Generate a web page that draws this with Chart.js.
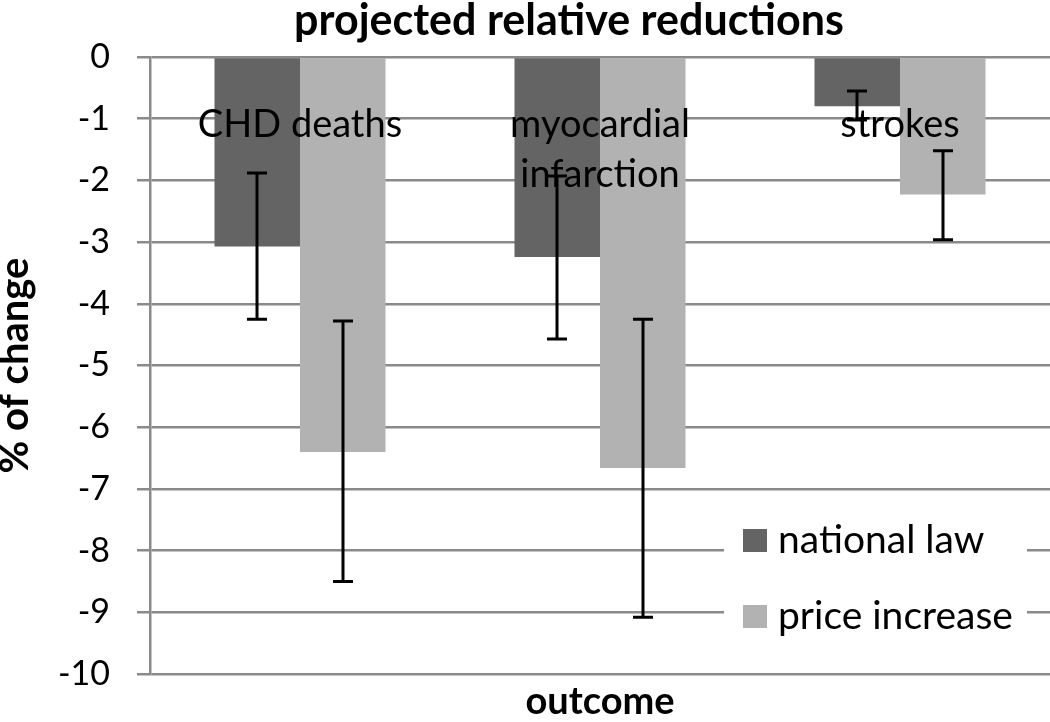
<!DOCTYPE html>
<html>
<head>
<meta charset="utf-8">
<script src="https://cdn.jsdelivr.net/npm/chart.js@4.4.1/dist/chart.umd.min.js"></script>
<style>
  html, body { margin: 0; padding: 0; background: #fff; }
  #wrap { width: 1050px; height: 722px; }
</style>
</head>
<body>
<div id="wrap"><canvas id="myChart" width="1050" height="722"></canvas></div>
<script>
// values
const categories = ['CHD deaths', ['myocardial', 'infarction'], 'strokes'];
const seriesNames = ['national law', 'price increase'];
const nationalLaw = [-3.07, -3.24, -0.80];
const priceIncrease = [-6.40, -6.66, -2.23];
// error bar ends (upper, lower)
const nationalLawErr = [[-1.88, -4.25], [-1.93, -4.57], [-0.55, -1.02]];
const priceIncreaseErr = [[-4.28, -8.50], [-4.25, -9.08], [-1.52, -2.96]];
const yTicks = [0, -1, -2, -3, -4, -5, -6, -7, -8, -9, -10];

const FONT = 'Lato';
const gridColor = '#8a8a8a';
const colors = ['#646464', '#b2b2b2'];

// draw category names inside the plot, error bars and the legend box
const extras = {
    id: 'extras',
    afterDatasetsDraw(chart) {
        const ctx = chart.ctx;
        const x = chart.scales.x;
        const y = chart.scales.y;
        ctx.save();
        // category labels near the top of the plot
        ctx.fillStyle = '#000';
        ctx.font = '38px ' + FONT;
        ctx.textAlign = 'center';
        ctx.textBaseline = 'alphabetic';
        categories.forEach((c, i) => {
            const lines = Array.isArray(c) ? c : [c];
            const cx = x.getPixelForValue(i);
            lines.forEach((l, j) => {
                ctx.fillText(l, cx, 137 + j * 50);
            });
        });
        // error bars
        const errs = [nationalLawErr, priceIncreaseErr];
        ctx.strokeStyle = '#000';
        ctx.lineWidth = 3;
        errs.forEach((err, d) => {
            const meta = chart.getDatasetMeta(d);
            meta.data.forEach((bar, i) => {
                const bx = Math.round(bar.x);
                const y1 = y.getPixelForValue(err[i][0]);
                const y2 = y.getPixelForValue(err[i][1]);
                ctx.beginPath();
                ctx.moveTo(bx, y1); ctx.lineTo(bx, y2);
                ctx.moveTo(bx - 10, y1); ctx.lineTo(bx + 10, y1);
                ctx.moveTo(bx - 10, y2); ctx.lineTo(bx + 10, y2);
                ctx.stroke();
            });
        });
        // legend inside the plot, bottom right
        ctx.fillStyle = '#fff';
        ctx.fillRect(724, 515, 303, 130);
        ctx.textAlign = 'left';
        ctx.textBaseline = 'middle';
        ctx.font = '39px ' + FONT;
        seriesNames.forEach((n, i) => {
            const top = i === 0 ? 529 : 605;
            ctx.fillStyle = colors[i];
            ctx.fillRect(743, top, 24, 23);
            ctx.fillStyle = '#000';
            ctx.fillText(n, 778, top + 11);
        });
        // title
        ctx.textAlign = 'center';
        ctx.textBaseline = 'alphabetic';
        ctx.font = 'bold 43px ' + FONT;
        ctx.fillText('projected relative reductions', 569, 35);
        ctx.restore();
    }
};

const ctx = document.getElementById('myChart').getContext('2d');
const chart = new Chart(ctx, {
    type: 'bar',
    data: {
        labels: categories,
        datasets: [{
            label: seriesNames[0],
            data: nationalLaw,
            backgroundColor: colors[0],
            borderWidth: 0
        }, {
            label: seriesNames[1],
            data: priceIncrease,
            backgroundColor: colors[1],
            borderWidth: 0
        }]
    },
    options: {
        responsive: false,
        animation: false,
        layout: { padding: { top: 57, right: 0, left: 0, bottom: 0 } },
        datasets: { bar: { categoryPercentage: 0.57, barPercentage: 1.0 } },
        plugins: {
            legend: { display: false },
            tooltip: { enabled: false },
            title: { display: false }
        },
        scales: {
            x: {
                grid: { display: false },
                border: { display: false },
                ticks: { display: false },
                title: {
                    display: true,
                    text: 'outcome',
                    color: '#000',
                    font: { family: FONT, size: 38, weight: 'bold' },
                    padding: { top: 0, bottom: -3 }
                },
                afterFit(scale) { scale.height = 48; }
            },
            y: {
                min: -10,
                max: 0,
                afterBuildTicks(scale) { scale.ticks = yTicks.map(v => ({ value: v })); },
                grid: { color: gridColor, lineWidth: 2.5, tickLength: 13 },
                border: { color: gridColor, width: 2.5 },
                ticks: {
                    color: '#000',
                    padding: 27,
                    font: { family: FONT, size: 34 }
                },
                title: {
                    display: true,
                    text: '% of change',
                    color: '#000',
                    font: { family: FONT, size: 40, weight: 'bold' },
                    padding: { top: -9, bottom: 0 }
                },
                afterFit(scale) { scale.width = 150; }
            }
        }
    },
    plugins: [extras]
});
</script>
</body>
</html>
